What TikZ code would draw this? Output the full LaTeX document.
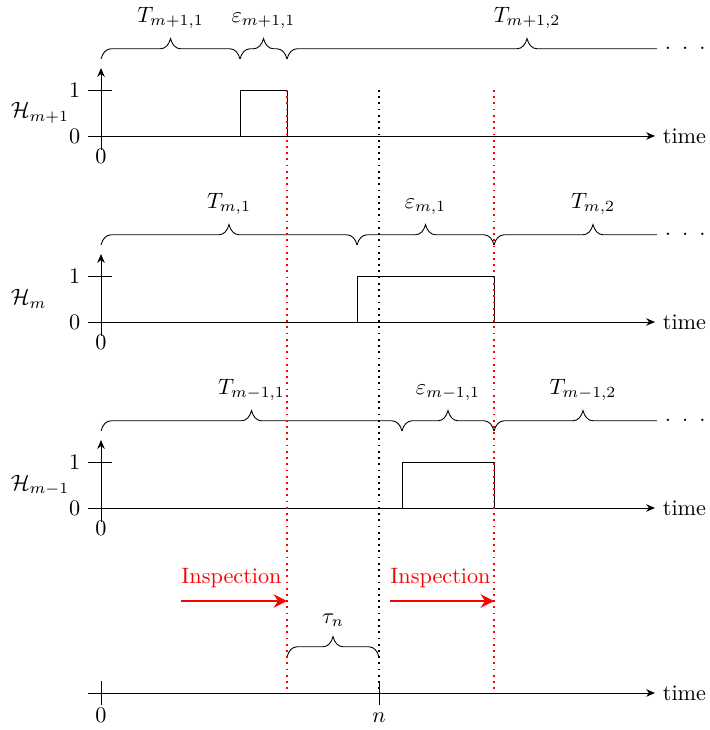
\documentclass[tikz,border=0pt]{standalone}
\usepackage{amsmath,amssymb}
\usepackage{tikz}
\usetikzlibrary{arrows.meta,positioning,decorations.pathreplacing}
\tikzset{
    eixo/.style={-{Stealth[length=4pt,width=3.4pt]}},
    sinal/.style={line join=miter},
    chave/.style={decorate, decoration={brace, amplitude=4.6pt, transform={yscale=2}}},
    rotulo/.style={above=10pt},
    marca/.style={text height=1.5ex, text depth=.25ex},
    guiaVermelha/.style={red, dotted, thick},
    guiaPreta/.style={black, dotted, thick},
    inspecao/.style={red, very thick, -{Stealth[length=6pt,width=6pt]}},
    textoInspecao/.style={red, anchor=base west, inner sep=0pt}
}

\begin{document}
\begin{tikzpicture}[x=0.45pt, y=-0.45pt]
    \useasboundingbox (0,0) rectangle (710,730);

    \foreach \p/\yo/\sub/\ta/\tb/\tfim in {1/136/{m+1}/240/287/767, 2/322/m/357/494/692, 3/508/{m-1}/402/494/672}{
        \draw[eixo] (88,\yo) -- (655,\yo) node[right] (tempo\p) {time};
        \draw[eixo] (101,\yo+14) -- (101,\yo-68);
        \draw (88,\yo-46) -- (112,\yo-46);
        \node[left] (um\p) at (88,\yo-46) {$1$};
        \node[left] (zero\p) at (88,\yo) {$0$};
        \node[below, marca] (orig\p) at (101,\yo+5) {$0$};
        \node[anchor=west] (H\p) at (3,\yo-23) {$\mathcal{H}_{\sub}$};
        \draw[sinal] (\ta,\yo) |- (\tb,\yo-46) -- (\tb,\yo);
        \draw[chave] (101,\yo-77) -- (\ta,\yo-77) node[midway, rotulo] (T\p) {$T_{\sub,1}$};
        \draw[chave] (\ta,\yo-77) -- (\tb,\yo-77) node[midway, rotulo] (eps\p) {$\varepsilon_{\sub,1}$};
        \begin{scope}
            \clip (\tb-12,\yo-150) rectangle (657,\yo-60);
            \draw[chave] (\tb,\yo-77) -- (\tfim,\yo-77) node[midway, rotulo] (Tb\p) {$T_{\sub,2}$};
        \end{scope}
        \node[anchor=west] (pontos\p) at (657,\yo-88) {.\hspace{5pt}.\hspace{5pt}.};
    }

    \draw[eixo] (88,693) -- (655,693) node[right] (tempo4) {time};
    \coordinate (t0a) at (101,681);
    \coordinate (t0b) at (101,705);
    \coordinate (tna) at (379,681);
    \coordinate (tnb) at (379,705);
    \draw (t0a) -- (t0b);
    \draw (tna) -- (tnb);
    \node[below, marca] (zero4) at (101,700) {$0$};
    \node[below, marca] (n) at (379,700) {$n$};

    \coordinate (falhaA) at (287,90);
    \coordinate (falhaB) at (287,693);
    \coordinate (reparoA) at (494,90);
    \coordinate (reparoB) at (494,693);
    \coordinate (agoraA) at (379,90);
    \coordinate (agoraB) at (379,693);

    \draw[chave] (287,657) -- (379,657) node[midway, rotulo] (tau) {$\tau_n$};

    \coordinate (ini1) at (181,601);
    \coordinate (ini2) at (390,601);
    \draw[inspecao] (ini1) -- (ini1 -| falhaA);
    \draw[inspecao] (ini2) -- (ini2 -| reparoA);
    \node[textoInspecao] (insp1) at (181,583) {Inspection};
    \node[textoInspecao] (insp2) at (390,583) {Inspection};

    \draw[guiaPreta] (agoraA) -- (agoraB);
    \draw[guiaVermelha] (falhaA) -- (falhaB);
    \draw[guiaVermelha] (reparoA) -- (reparoB);
\end{tikzpicture}
\end{document}
